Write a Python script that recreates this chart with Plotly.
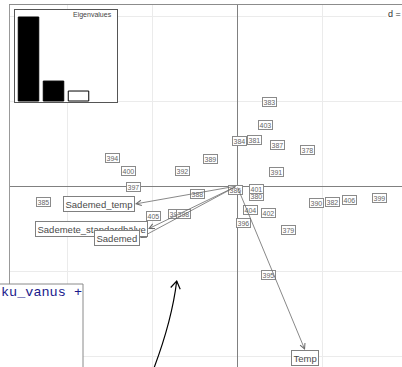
import plotly.graph_objects as go

# Row scores on the first two principal axes
row_labels = ["378", "379", "380", "381", "382", "383", "384", "385", "386", "387",
              "388", "389", "390", "391", "392", "393", "394", "395", "396", "397",
              "398", "399", "400", "401", "402", "403", "404", "405", "406"]
row_x = [0.835, 0.600, 0.235, 0.200, 1.129, 0.388, 0.035, -2.282, -0.012, 0.482,
         -0.459, -0.306, 0.941, 0.459, -0.647, -0.718, -1.459, 0.365, 0.071, -1.212,
         -0.624, 1.671, -1.271, 0.235, 0.365, 0.341, 0.153, -0.988, 1.329]
row_y = [0.424, -0.518, -0.118, 0.541, -0.188, 0.988, 0.529, -0.188, -0.047, 0.482,
         -0.094, 0.318, -0.200, 0.165, 0.176, -0.329, 0.329, -1.047, -0.435, -0.012,
         -0.329, -0.141, 0.176, -0.035, -0.318, 0.718, -0.282, -0.353, -0.165]

# Variable loadings (arrows)
var_names = ["Sademed_temp", "Sademete_standardhälve", "Sademed", "Temp"]
var_x = [-1.200, -1.047, -1.141, 0.800]
var_y = [-0.212, -0.506, -0.612, -1.929]
var_xanchor = ["right", "right", "right", "center"]
var_yanchor = ["middle", "middle", "middle", "top"]

# Eigenvalues for the inset
eig_rank = [1, 2, 3]
eig_values = [2.95, 0.70, 0.35]
eig_fill = ["black", "black", "white"]

W, H = 402, 367
ML, MT = 10, 5


def paper(px, py):
    """Pixel position on the page -> paper coordinates."""
    return (px - ML) / (W - ML), (H - py) / (H - MT)


FONT = "Liberation Sans, Arial, sans-serif"

fig = go.Figure()

# Eigenvalue bar chart in the corner
fig.add_trace(go.Bar(
    x=eig_rank, y=eig_values, width=0.82,
    marker=dict(color=eig_fill, line=dict(color="black", width=1)),
    xaxis="x2", yaxis="y2", hoverinfo="skip", showlegend=False,
))

annotations = []

# Row labels in boxes
for lab, x, y in zip(row_labels, row_x, row_y):
    annotations.append(dict(
        x=x, y=y, xref="x", yref="y", text=lab, showarrow=False,
        font=dict(family=FONT, size=7, color="#666666"),
        bgcolor="white", bordercolor="#8a8a8a", borderwidth=1, borderpad=0.5,
    ))

# Arrows from the origin to each variable
for x, y in zip(var_x, var_y):
    annotations.append(dict(
        x=x, y=y, ax=0, ay=0, xref="x", yref="y", axref="x", ayref="y",
        text="", showarrow=True, arrowhead=5, arrowsize=1.3, arrowwidth=0.8,
        arrowcolor="#6a6a6a", standoff=0, startstandoff=0,
    ))

# Variable labels
for name, x, y, xa, ya in zip(var_names, var_x, var_y, var_xanchor, var_yanchor):
    annotations.append(dict(
        x=x, y=y, xref="x", yref="y", text=name, showarrow=False,
        xanchor=xa, yanchor=ya,
        font=dict(family=FONT, size=9.5, color="#4a4a4a"),
        bgcolor="white", bordercolor="#808080", borderwidth=1, borderpad=1.5,
    ))

# Grid scale note
dx, dy = paper(386, 14)
annotations.append(dict(
    x=dx, y=dy, xref="paper", yref="paper", text="d = 1", showarrow=False,
    xanchor="left", yanchor="middle", bgcolor="white",
    font=dict(family=FONT, size=9, color="#333333"),
))

# Inset title
ex, ey = paper(114, 15)
annotations.append(dict(
    x=ex, y=ey, xref="paper", yref="paper", text="Eigenvalues", showarrow=False,
    xanchor="right", yanchor="middle",
    font=dict(family=FONT, size=7, color="#444444"),
))

# Console snippet
kx, ky = paper(84, 292)
annotations.append(dict(
    x=kx, y=ky, xref="paper", yref="paper", text="ku_vanus +", showarrow=False,
    xanchor="right", yanchor="middle",
    font=dict(family="Liberation Mono, Courier New, monospace", size=13.5, color="#1a1a8c"),
))

shapes = []

# White console box
bx0, by0 = paper(-5, 372)
bx1, by1 = paper(83, 284)
shapes.append(dict(
    type="rect", xref="paper", yref="paper", x0=bx0, y0=by0, x1=bx1, y1=by1,
    fillcolor="white", line=dict(color="#8a8a8a", width=1), layer="above",
))

# Curved pointer arrow
p0 = paper(154, 368)
pc = paper(172, 320)
p1 = paper(176.7, 281)
shapes.append(dict(
    type="path", xref="paper", yref="paper",
    path=f"M {p0[0]},{p0[1]} Q {pc[0]},{pc[1]} {p1[0]},{p1[1]}",
    line=dict(color="black", width=1.2), layer="above",
))
w1 = paper(170.7, 287.5)
w2 = paper(180.2, 289.3)
shapes.append(dict(
    type="path", xref="paper", yref="paper",
    path=f"M {w1[0]},{w1[1]} L {p1[0]},{p1[1]} L {w2[0]},{w2[1]}",
    line=dict(color="black", width=1.2), layer="above",
))

ix0, iy1 = paper(15, 10)
ix1, iy0 = paper(117, 102)

fig.update_layout(
    width=W, height=H, autosize=False,
    margin=dict(l=ML, r=0, t=MT, b=0, pad=0),
    paper_bgcolor="white", plot_bgcolor="white",
    showlegend=False,
    xaxis=dict(
        range=[(ML - 237) / 85, (W - 237) / 85], tickvals=[-2, -1, 0, 1],
        showticklabels=False, ticks="", showgrid=True, gridcolor="#ebebeb", gridwidth=1,
        zeroline=True, zerolinecolor="#808080", zerolinewidth=1,
        showline=True, side="top", linecolor="#8c8c8c", linewidth=1, mirror=False,
        fixedrange=True,
    ),
    yaxis=dict(
        range=[(186 - H) / 85, (186 - MT) / 85], tickvals=[-2, -1, 0, 1, 2],
        showticklabels=False, ticks="", showgrid=True, gridcolor="#ebebeb", gridwidth=1,
        zeroline=True, zerolinecolor="#808080", zerolinewidth=1,
        showline=True, side="left", linecolor="#999999", linewidth=1, mirror=False,
        fixedrange=True,
    ),
    xaxis2=dict(
        domain=[ix0, ix1], anchor="y2", range=[0.46, 4.54],
        showgrid=False, zeroline=False, showticklabels=False, ticks="",
        showline=True, mirror=True, linecolor="#555555", linewidth=1,
    ),
    yaxis2=dict(
        domain=[iy0, iy1], anchor="x2", range=[-0.0351, 3.196],
        showgrid=False, zeroline=False, showticklabels=False, ticks="",
        showline=True, mirror=True, linecolor="#555555", linewidth=1,
    ),
    annotations=annotations,
    shapes=shapes,
)

fig.write_html("out.html")
